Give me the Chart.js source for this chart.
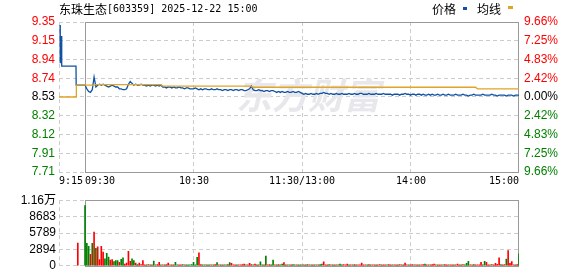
<!DOCTYPE html>
<html>
<head>
<meta charset="utf-8">
<script src="https://cdn.jsdelivr.net/npm/chart.js@4.4.1/dist/chart.umd.min.js"></script>
<style>
body { margin: 0; background: #fff; }
canvas { display: block; }
</style>
</head>
<body>
<canvas id="chartprecio" width="578" height="190"></canvas>
<canvas id="chartvolumen" width="578" height="86"></canvas>
<script>
// DATOS

const titleName = '东珠生态';
const titleInfo = '[603359] 2025-12-22 15:00';
const legendNames = ['价格', '均线'];
const watermark = '东方财富';

const prevClose = 8.53;
const limitPct = 0.0966;

// tick labels, top to bottom
const priceTicks = ['9.35', '9.15', '8.94', '8.74', '8.53', '8.32', '8.12', '7.91', '7.71'];
const pctTicks = ['9.66%', '7.25%', '4.83%', '2.42%', '0.00%', '2.42%', '4.83%', '7.25%', '9.66%'];
const volTicks = ['1.16万', '8683', '5789', '2894', '0'];
const volMax = 11577;

// minutes from 09:30 (auction 9:15 starts at -14.4)
const timeTickValues = [-14.4, 0, 60, 120, 180, 240];
const timeTickLabels = ['9:15', '09:30', '10:30', '11:30/13:00', '14:00', '15:00'];

// auction
const auctionX = [-13.8, -13.7, -13.1, -12.9, -5.0, -4.9, 0];
const auctionPrice = [9.32, 8.90, 9.20, 8.87, 8.87, 8.66, 8.66];
const auctionVolX = -4;
const auctionVol = 4000;

// one value per minute, 09:30 .. 15:00
const price = [
  8.66, 8.62, 8.59, 8.58, 8.61, 8.75, 8.64, 8.66, 8.67, 8.66,
  8.67, 8.66, 8.65, 8.64, 8.65, 8.66, 8.65, 8.64, 8.64, 8.62,
  8.62, 8.61, 8.61, 8.62, 8.67, 8.70, 8.68, 8.66, 8.67, 8.66,
  8.66, 8.67, 8.66, 8.66, 8.65, 8.66, 8.65, 8.66, 8.66, 8.65,
  8.66, 8.65, 8.66, 8.64, 8.64, 8.63, 8.64, 8.64, 8.63, 8.64,
  8.63, 8.63, 8.64, 8.63, 8.63, 8.62, 8.63, 8.63, 8.62, 8.62,
  8.62, 8.63, 8.62, 8.61, 8.62, 8.61, 8.62, 8.62, 8.61, 8.61,
  8.62, 8.61, 8.61, 8.62, 8.61, 8.61, 8.60, 8.61, 8.61, 8.60,
  8.61, 8.61, 8.60, 8.61, 8.61, 8.60, 8.61, 8.61, 8.60, 8.60,
  8.61, 8.62, 8.65, 8.61, 8.60, 8.60, 8.61, 8.60, 8.60, 8.59,
  8.60, 8.60, 8.59, 8.60, 8.60, 8.59, 8.58, 8.59, 8.58, 8.59,
  8.58, 8.58, 8.59, 8.58, 8.58, 8.59, 8.58, 8.58, 8.59, 8.58,
  8.57, 8.56, 8.57, 8.56, 8.56, 8.57, 8.56, 8.56, 8.57, 8.56,
  8.57, 8.57, 8.58, 8.57, 8.57, 8.56, 8.57, 8.56, 8.56, 8.57,
  8.56, 8.56, 8.57, 8.56, 8.56, 8.56, 8.57, 8.56, 8.56, 8.57,
  8.56, 8.56, 8.57, 8.57, 8.56, 8.56, 8.56, 8.57, 8.56, 8.56,
  8.56, 8.57, 8.56, 8.56, 8.56, 8.57, 8.56, 8.56, 8.56, 8.56,
  8.55, 8.56, 8.56, 8.56, 8.55, 8.56, 8.56, 8.57, 8.56, 8.56,
  8.55, 8.56, 8.56, 8.55, 8.56, 8.56, 8.55, 8.56, 8.55, 8.55,
  8.56, 8.55, 8.56, 8.55, 8.55, 8.56, 8.55, 8.55, 8.56, 8.55,
  8.55, 8.56, 8.55, 8.55, 8.55, 8.56, 8.55, 8.55, 8.55, 8.56,
  8.55, 8.55, 8.54, 8.55, 8.55, 8.56, 8.55, 8.55, 8.55, 8.55,
  8.56, 8.55, 8.55, 8.55, 8.55, 8.56, 8.55, 8.55, 8.54, 8.55,
  8.55, 8.55, 8.55, 8.54, 8.55, 8.55, 8.55, 8.54, 8.55, 8.55,
  8.55
];

// average line, read at its steps
const avgX = [-14.4, -4.9, -4.8, 0, 5, 6, 42, 43, 92, 93, 216, 217, 240];
const avgPrice = [8.53, 8.53, 8.66, 8.66, 8.66, 8.665, 8.665, 8.65, 8.65, 8.637, 8.637, 8.62, 8.62];

const volume = [
  10630, 3960, 3440, 2030, 3960, 5940, 3070, 3330, 1090, 3440,
  2400, 1250, 2190, 1560, 990, 1090, 730, 940, 940, 620,
  1140, 1410, 310, 470, 2550, 780, 1250, 940, 470, 210,
  470, 210, 940, 160, 180, 200, 150, 170, 830, 160,
  200, 620, 170, 190, 150, 200, 470, 160, 180, 150,
  620, 160, 170, 150, 200, 160, 180, 170, 150, 200,
  620, 180, 1510, 2300, 200, 170, 160, 190, 150, 180,
  170, 160, 200, 580, 180, 160, 170, 190, 150, 200,
  580, 430, 170, 160, 190, 150, 180, 200, 290, 160,
  180, 430, 200, 170, 290, 160, 180, 720, 190, 170,
  1730, 180, 200, 150, 1010, 170, 160, 200, 180, 290,
  580, 170, 190, 160, 150, 200, 170, 180, 160, 190,
  170, 180, 160, 200, 170, 150, 190, 180, 160, 170,
  200, 290, 720, 170, 160, 200, 180, 150, 190, 170,
  160, 290, 180, 200, 170, 290, 160, 150, 180, 200,
  170, 160, 190, 470, 170, 180, 160, 200, 150, 190,
  170, 180, 160, 200, 170, 190, 160, 180, 200, 150,
  170, 190, 160, 180, 200, 170, 160, 470, 180, 170,
  160, 200, 190, 170, 150, 180, 160, 200, 290, 170,
  180, 160, 200, 290, 170, 160, 180, 190, 150, 200,
  170, 160, 180, 190, 170, 160, 290, 180, 160, 200,
  170, 430, 780, 180, 160, 200, 170, 150, 170, 620,
  170, 780, 620, 170, 160, 200, 170, 430, 240, 1400,
  200, 180, 200, 1200, 2700, 430, 750, 170, 160, 200,
  2100
];

// R = up (red), G = down (green)
const volDir =
  'GGGRGRGRRR' + 'RGGGRRGGGR' + 'GGRRRRGGRG' + 'RRRRGRGRGG' + 'RRGRGRRGRR' +
  'GGRRGRGGGG' + 'GGGRRGGRGG' + 'RGRGRGRGGR' + 'GRRRGRRRRG' + 'RRRGRGRGGR' +
  'GRRGGRGRGG' + 'RGRGRGGRGG' + 'RGRGRGRGGR' + 'GGRRRGRGRG' + 'RGGRRRGRGR' +
  'GRRRRRGRGR' + 'RGRRGRRGRR' + 'GRRGRRGRRG' + 'RRGRRGRRGR' + 'GRRRRGRRGR' +
  'RGRRGRRRGR' + 'GGGRRGRRRR' + 'GGRRRGRRRR' + 'GRRGRRRRGR' + 'G';


// ESTILOS

const blue = '#0f52a4';
const orange = '#e0a429';
const red = '#ff0000';
const green = '#008000';
const gridColor = '#cccccc';
const frameColor = '#999999';
const numFont = { family: 'Liberation Sans, "Noto Sans CJK SC"', size: 12 };

const priceMin = prevClose * (1 - limitPct);
const priceMax = prevClose * (1 + limitPct);

function labelColor(i) {
    if (i < 4) return red;
    if (i === 4) return '#000000';
    return green;
}

function xAxis() {
    return {
        type: 'linear',
        min: -14.4,
        max: 240,
        offset: false,
        afterBuildTicks: s => { s.ticks = [-14.4, 60, 120, 180].map(v => ({ value: v })); },
        afterFit: s => { s.height = 0; },
        ticks: { display: false },
        grid: { color: gridColor, drawTicks: false, offset: false },
        border: { display: false, dash: [4, 3] }
    };
}

function evenTicks(min, max, n) {
    return s => {
        const t = [];
        for (let i = 0; i < n; i++) t.push({ value: min + i * (max - min) / (n - 1) });
        s.ticks = t;
    };
}

function drawFrame(chart) {
    const { ctx, chartArea, scales } = chart;
    const x0 = Math.round(scales.x.getPixelForValue(0)) + 0.5;
    const top = Math.round(chartArea.top) + 0.5;
    const bottom = Math.round(chartArea.bottom) + 0.5;
    const right = Math.round(chartArea.right) - 0.5;
    ctx.save();
    ctx.strokeStyle = frameColor;
    ctx.lineWidth = 1;
    ctx.setLineDash([]);
    ctx.strokeRect(x0, top, right - x0, bottom - top);
    ctx.restore();
}


// PRECIO

const textosPrecio = {
    id: 'textosPrecio',
    beforeDatasetsDraw(chart) {
        const ctx = chart.ctx;
        ctx.save();
        ctx.font = 'italic bold 36px "Noto Sans CJK SC"';
        ctx.fillStyle = '#e8e8ec';
        ctx.textBaseline = 'middle';
        ctx.fillText(watermark, 236, 95);
        ctx.restore();
        drawFrame(chart);
    },
    afterDraw(chart) {
        const ctx = chart.ctx;
        const xs = chart.scales.x;
        ctx.save();
        ctx.textBaseline = 'middle';
        ctx.fillStyle = '#000000';

        ctx.font = '12px "Noto Sans CJK SC"';
        ctx.fillText(titleName, 59, 9);
        const w = ctx.measureText(titleName).width;
        ctx.font = '10px "DejaVu Sans Mono"';
        ctx.fillText(titleInfo, 59 + w, 9);

        ctx.font = '12px "Noto Sans CJK SC"';
        ctx.fillText(legendNames[0], 432, 9);
        ctx.fillText(legendNames[1], 477, 9);
        ctx.fillStyle = blue;
        ctx.fillRect(463, 7, 4, 3);
        ctx.fillStyle = orange;
        ctx.fillRect(508, 6, 5, 3);

        ctx.fillStyle = '#000000';
        ctx.font = '10px "DejaVu Sans Mono"';
        const aligns = ['left', 'left', 'center', 'center', 'center', 'right'];
        timeTickValues.forEach((v, i) => {
            ctx.textAlign = aligns[i];
            ctx.fillText(timeTickLabels[i], Math.round(xs.getPixelForValue(v)), 181);
        });
        ctx.restore();
    }
};

new Chart(document.getElementById('chartprecio'), {
    type: 'line',
    data: {
        datasets: [
            {
                label: legendNames[1],
                data: avgX.map((x, i) => ({ x: x, y: avgPrice[i] })),
                borderColor: orange,
                borderWidth: 1.3,
                pointRadius: 0
            },
            {
                label: 'auction',
                data: auctionX.map((x, i) => ({ x: x, y: auctionPrice[i] })),
                borderColor: blue,
                borderWidth: 1.3,
                pointRadius: 0
            },
            {
                label: legendNames[0],
                data: price.map((v, i) => ({ x: i, y: v })),
                borderColor: blue,
                borderWidth: 1.3,
                pointRadius: 0
            }
        ]
    },
    options: {
        responsive: false,
        animation: false,
        events: [],
        layout: { padding: { top: 22, bottom: 18, left: 0, right: 0 } },
        plugins: { legend: { display: false }, tooltip: { enabled: false } },
        scales: {
            x: xAxis(),
            y: {
                position: 'left',
                min: priceMin,
                max: priceMax,
                afterBuildTicks: evenTicks(priceMin, priceMax, 9),
                afterFit: s => { s.width = 59; },
                ticks: {
                    padding: 4,
                    font: numFont,
                    autoSkip: false,
                    color: c => labelColor(8 - c.index),
                    callback: (v, i) => priceTicks[8 - i]
                },
                grid: { color: gridColor, drawTicks: false },
                border: { display: false, dash: [4, 3] }
            },
            y2: {
                position: 'right',
                min: priceMin,
                max: priceMax,
                afterBuildTicks: evenTicks(priceMin, priceMax, 9),
                afterFit: s => { s.width = 59; },
                ticks: {
                    padding: 5,
                    font: numFont,
                    autoSkip: false,
                    color: c => labelColor(8 - c.index),
                    callback: (v, i) => pctTicks[8 - i]
                },
                grid: { display: false, drawTicks: false },
                border: { display: false }
            }
        }
    },
    plugins: [textosPrecio]
});


// VOLUMEN

const volData = [{ x: auctionVolX, y: auctionVol }].concat(volume.map((v, i) => ({ x: i, y: v })));
const volColors = [red].concat(volume.map((v, i) => volDir[i] === 'R' ? red : green));

new Chart(document.getElementById('chartvolumen'), {
    type: 'bar',
    data: {
        datasets: [{
            label: 'volume',
            data: volData,
            backgroundColor: volColors,
            barThickness: 1,
            borderWidth: 0
        }]
    },
    options: {
        responsive: false,
        animation: false,
        events: [],
        layout: { padding: { top: 6, bottom: 6, left: 0, right: 59 } },
        plugins: { legend: { display: false }, tooltip: { enabled: false } },
        scales: {
            x: xAxis(),
            y: {
                position: 'left',
                min: 0,
                max: volMax,
                afterBuildTicks: evenTicks(0, volMax, 5),
                afterFit: s => { s.width = 59; },
                ticks: {
                    padding: 3,
                    font: numFont,
                    color: '#000000',
                    autoSkip: false,
                    callback: (v, i) => volTicks[4 - i]
                },
                grid: { color: gridColor, drawTicks: false },
                border: { display: false, dash: [4, 3] }
            }
        }
    },
    plugins: [{ id: 'marcoVolumen', beforeDatasetsDraw: drawFrame }]
});
</script>
</body>
</html>
